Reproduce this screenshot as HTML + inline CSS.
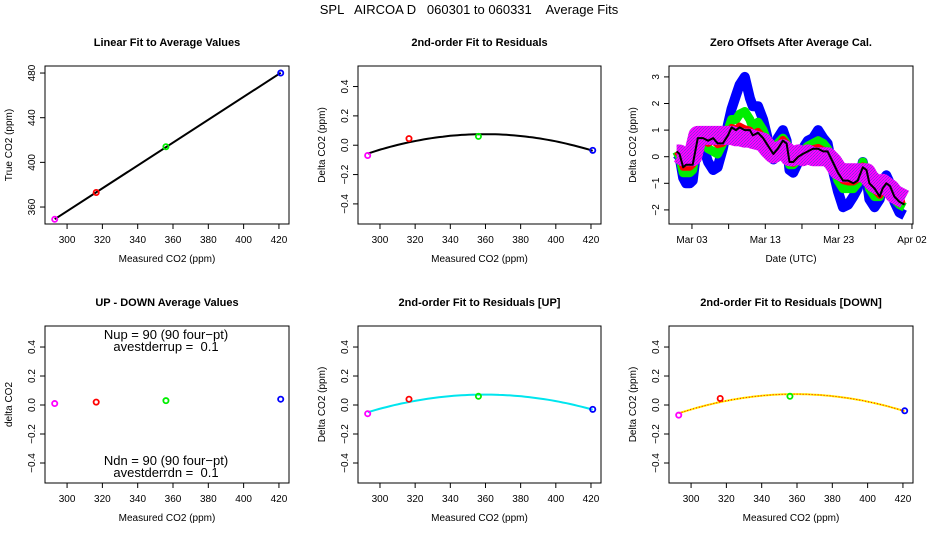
<!DOCTYPE html>
<html><head><meta charset="utf-8"><style>
body{margin:0;background:#fff}
svg{display:block;font-family:"Liberation Sans",sans-serif}
text{white-space:pre}
</style></head><body>
<svg id="c" width="936" height="540" viewBox="0 0 936 540">
<defs>
<pattern id="hatch" width="3" height="3" patternUnits="userSpaceOnUse">
<rect width="3" height="3" fill="#ff00ff"/><rect x="0" y="0" width="1" height="1" fill="#8a2be2"/><rect x="2" y="1" width="1" height="1" fill="#a020f0"/><rect x="1" y="2" width="1" height="1" fill="#8a2be2"/>
</pattern>
</defs>
<text x="469" y="14" font-size="13" text-anchor="middle" xml:space="preserve">SPL   AIRCOA D   060301 to 060331    Average Fits</text>
</svg>
<script>
// ---- data ----
const measured = [293, 316.5, 356, 421];
const trueVals = [349, 373, 414, 480];
const residAll = [-0.07, 0.045, 0.06, -0.035];
const upDown = [0.01, 0.02, 0.03, 0.04];
const residUp = [-0.06, 0.04, 0.06, -0.03];
const residDown = [-0.07, 0.045, 0.06, -0.04];
const pointColors = ["#ff00ff", "#ff0000", "#00ee00", "#0000ff"];
const xTicks = [300, 320, 340, 360, 380, 400, 420];
const yTicksTrue = [360, 400, 440, 480];
const yTicksResid = [-0.4, -0.2, 0.0, 0.2, 0.4];
const yTickResidLabels = ["-0.4", "-0.2", "0.0", "0.2", "0.4"];
const dateTicks = [2, 7, 12, 17, 22, 27, 32];
const dateTickLabels = ["Mar 03", "", "Mar 13", "", "Mar 23", "", "Apr 02"];
const yTicksOffset = [-2, -1, 0, 1, 2, 3];
const days = [-0.1,0.3,0.8,1.2,1.7,2.1,2.8,3.5,4.2,4.9,5.5,6.2,6.9,7.4,8.0,8.5,9.2,9.9,10.3,11.0,11.7,12.4,13.1,13.7,14.4,14.9,15.3,15.8,16.5,17.1,17.8,18.5,19.2,19.9,20.5,21.2,21.9,22.6,23.3,24.0,24.6,25.3,25.8,26.2,26.9,27.6,28.0,28.5,29.0,29.6,30.3,31.0];
const blackSeries = [0.2,0.1,-0.4,-0.3,-0.3,-0.3,0.7,0.7,0.6,0.7,0.5,0.5,0.8,1.1,1.0,1.1,1.0,1.0,0.8,0.9,0.7,0.4,0.1,0.3,0.6,0.5,-0.2,-0.2,0.0,0.1,0.2,0.3,0.3,0.2,0.2,-0.2,-0.6,-0.9,-0.9,-1.0,-0.9,-0.4,-0.5,-1.0,-1.2,-1.5,-1.2,-1.0,-1.1,-1.5,-1.7,-1.8];
const blueSeries = [0.1,0.0,-0.8,-1.0,-1.0,-0.9,0.7,0.4,-0.2,-0.5,-0.4,0.3,1.2,1.8,2.3,2.7,3.0,2.2,1.9,1.9,1.4,0.6,-0.1,0.7,1.0,0.6,-0.5,-0.6,-0.2,0.3,0.6,0.7,1.0,0.7,0.5,-0.5,-1.3,-1.9,-1.8,-1.5,-1.2,-0.2,-0.8,-1.6,-1.9,-1.6,-0.9,-0.7,-1.0,-1.7,-2.1,-2.2];
const greenSeries = [0.2,0.0,-0.6,-0.6,-0.6,-0.5,0.7,0.6,0.3,0.2,0.1,0.5,1.0,1.4,1.4,1.6,1.7,1.4,1.1,1.3,1.0,0.5,0.0,0.5,0.7,0.5,-0.3,-0.3,-0.1,0.2,0.4,0.5,0.6,0.5,0.3,-0.3,-0.9,-1.2,-1.2,-1.2,-1.0,-0.2,-0.6,-1.2,-1.5,-1.5,-1.0,-0.9,-1.1,-1.6,-1.8,-1.9];
const redSeries = [0.2,0.1,-0.4,-0.4,-0.4,-0.3,0.7,0.65,0.5,0.6,0.45,0.5,0.85,1.1,1.05,1.15,1.05,1.0,0.85,0.95,0.75,0.4,0.1,0.35,0.65,0.5,-0.2,-0.25,0.0,0.1,0.2,0.3,0.35,0.25,0.2,-0.25,-0.65,-0.9,-0.95,-0.95,-0.85,-0.35,-0.55,-1.0,-1.25,-1.45,-1.2,-1.0,-1.1,-1.5,-1.65,-1.6];
const magentaSeries = [0.1,0.1,0.0,0.0,0.0,0.0,0.8,0.8,0.8,0.8,0.8,0.8,0.8,0.8,0.75,0.75,0.7,0.7,0.65,0.6,0.55,0.3,0.1,0.2,0.3,0.2,0.0,0.0,0.1,0.0,0.1,0.0,0.0,0.0,0.0,-0.2,-0.5,-0.6,-0.6,-0.6,-0.6,-0.6,-0.6,-0.8,-1.0,-1.1,-1.0,-1.1,-1.2,-1.4,-1.5,-1.6];

const NS = "http://www.w3.org/2000/svg";
const svg = document.getElementById("c");
function mk(tag, attrs, parent, txt){
  const e = document.createElementNS(NS, tag);
  for (const k in attrs) e.setAttribute(k, attrs[k]);
  if (txt !== undefined) e.textContent = txt;
  (parent || svg).appendChild(e);
  return e;
}
function scale(d0, d1, r0, r1){ return v => r0 + (v - d0) / (d1 - d0) * (r1 - r0); }

function panel(o){
  const g = mk("g", {});
  
  
  const b = o.box;
  const sx = scale(o.xd[0], o.xd[1], b.l, b.r);
  const sy = scale(o.yd[0], o.yd[1], b.b, b.t);
  const t = mk("text", {x:(b.l+b.r)/2, y:b.t-20, "font-size":11, "font-weight":"bold", "text-anchor":"middle"}, g, o.title);
  
  
  const fr = mk("rect", {x:b.l, y:b.t, width:b.r-b.l, height:b.b-b.t, fill:"none", stroke:"#000", "stroke-width":1}, g);
  
  
  o.xt.forEach((v,i)=>{
    const x = sx(v);
    mk("line", {x1:x, x2:x, y1:b.b, y2:b.b+5, stroke:"#000"}, g);
    const lab = o.xl ? o.xl[i] : String(v);
    if (lab) {
      const tl = mk("text", {x:x, y:b.b+19, "font-size":10, "text-anchor":"middle"}, g, lab);
      
      
    }
  });
  o.yt.forEach((v,i)=>{
    const y = sy(v);
    mk("line", {x1:b.l-5, x2:b.l, y1:y, y2:y, stroke:"#000"}, g);
    const lab = o.yl ? o.yl[i] : String(v);
    const tl = mk("text", {x:b.l-10, y:y, "font-size":10, "text-anchor":"middle", transform:`rotate(-90 ${b.l-10} ${y})`}, g, lab.replace("-","\u2212"));
    
    
  });
  const xa = mk("text", {x:(b.l+b.r)/2, y:b.b+38, "font-size":10, "text-anchor":"middle"}, g, o.xlab);
  
  
  const ya = mk("text", {x:b.l-33, y:(b.t+b.b)/2, "font-size":10, "text-anchor":"middle", transform:`rotate(-90 ${b.l-33} ${(b.t+b.b)/2})`}, g, o.ylab);
  
  
  const clip = "clip-" + o.name;
  const cp = mk("clipPath", {id:clip}, g);
  mk("rect", {x:b.l, y:b.t, width:b.r-b.l, height:b.b-b.t}, cp);
  const inner = mk("g", {"clip-path":`url(#${clip})`}, g);
  return {g: inner, sx, sy, outer: g};
}
function points(p, xs, ys){
  xs.forEach((v,i)=>{
    const c = mk("circle", {cx:p.sx(v), cy:p.sy(ys[i]), r:2.6, fill:"none", stroke:pointColors[i], "stroke-width":1.8}, p.g);
    
    
  });
}
function quadFit(xs, ys){
  const n = xs.length; const m = xs.reduce((a,b)=>a+b,0)/n;
  const X = xs.map(v=>v-m);
  let S=[0,0,0,0,0], T=[0,0,0];
  X.forEach((x,i)=>{ for(let k=0;k<5;k++) S[k]+=Math.pow(x,k); for(let k=0;k<3;k++) T[k]+=ys[i]*Math.pow(x,k); });
  const A=[[S[0],S[1],S[2]],[S[1],S[2],S[3]],[S[2],S[3],S[4]]];
  const det = M => M[0][0]*(M[1][1]*M[2][2]-M[1][2]*M[2][1]) - M[0][1]*(M[1][0]*M[2][2]-M[1][2]*M[2][0]) + M[0][2]*(M[1][0]*M[2][1]-M[1][1]*M[2][0]);
  const D = det(A); const co=[];
  for(let j=0;j<3;j++){ const B=A.map((r,i)=>r.map((v,k)=>k===j?T[i]:v)); co.push(det(B)/D); }
  return x => co[0] + co[1]*(x-m) + co[2]*(x-m)*(x-m);
}
function curve(p, xs, ys, attrs, name){
  const f = quadFit(xs, ys);
  let d = "";
  const x0 = Math.min(...xs), x1 = Math.max(...xs);
  for (let i=0;i<=60;i++){ const x = x0 + (x1-x0)*i/60; d += (i?"L":"M") + p.sx(x).toFixed(1) + "," + p.sy(f(x)).toFixed(1); }
  const e = mk("path", Object.assign({d, fill:"none"}, attrs), p.g);
  
  
}
const XD = [287.5, 425.7];
const resX = "Measured CO2 (ppm)";

const p1 = panel({name:"linear-fit-panel", box:{l:45,r:289,t:66,b:224}, xd:XD, yd:[344.8,486.3], xt:xTicks, yt:yTicksTrue, title:"Linear Fit to Average Values", xlab:resX, ylab:"True CO2 (ppm)"});
(function(){
  const n = measured.length; const mx = measured.reduce((a,b)=>a+b)/n, my = trueVals.reduce((a,b)=>a+b)/n;
  let sxy=0, sxx=0; measured.forEach((x,i)=>{ sxy+=(x-mx)*(trueVals[i]-my); sxx+=(x-mx)*(x-mx); });
  const s = sxy/sxx; const f = x => my + s*(x-mx);
  const x0 = measured[0], x1 = measured[n-1];
  const l = mk("line", {x1:p1.sx(x0), y1:p1.sy(f(x0)), x2:p1.sx(x1), y2:p1.sy(f(x1)), stroke:"#000", "stroke-width":2}, p1.g);
  
  
})();
points(p1, measured, trueVals);

const p2 = panel({name:"residual-fit-panel", box:{l:358,r:601,t:66,b:224}, xd:XD, yd:[-0.537,0.54], xt:xTicks, yt:yTicksResid, yl:yTickResidLabels, title:"2nd-order Fit to Residuals", xlab:resX, ylab:"Delta CO2 (ppm)"});
curve(p2, measured, residAll, {stroke:"#000", "stroke-width":2}, "residual-fit-curve");
points(p2, measured, residAll);

const p3 = panel({name:"zero-offsets-panel", box:{l:669,r:913,t:66,b:224}, xd:[-1.13,32.14], yd:[-2.53,3.41], xt:dateTicks, xl:dateTickLabels, yt:yTicksOffset, title:"Zero Offsets After Average Cal.", xlab:"Date (UTC)", ylab:"Delta CO2 (ppm)"});
function series(vals, attrs, name){
  const d = days.map((t,i)=>(i?"L":"M")+p3.sx(t).toFixed(1)+","+p3.sy(vals[i]).toFixed(1)).join("");
  const e = mk("path", Object.assign({d, fill:"none", "stroke-linejoin":"round", "stroke-linecap":"butt"}, attrs), p3.g);
  
  
}
series(blueSeries, {stroke:"#0000ff", "stroke-width":10}, "blue-series");
series(greenSeries, {stroke:"#00ee00", "stroke-width":9}, "green-series");
series(redSeries, {stroke:"#ff0000", "stroke-width":7}, "red-series");
series(magentaSeries, {stroke:"url(#hatch)", "stroke-width":19}, "magenta-series");
series(blackSeries, {stroke:"#000", "stroke-width":2}, "black-series");

const p4 = panel({name:"up-down-panel", box:{l:45,r:289,t:326,b:483}, xd:XD, yd:[-0.538,0.545], xt:xTicks, yt:yTicksResid, yl:yTickResidLabels, title:"UP - DOWN Average Values", xlab:resX, ylab:"delta CO2"});
points(p4, measured, upDown);
[["Nup = 90 (90 four\u2212pt)",339,"nup-text"],["avestderrup =  0.1",351,"avestderrup-text"],["Ndn = 90 (90 four\u2212pt)",465,"ndn-text"],["avestderrdn =  0.1",477,"avestderrdn-text"]].forEach(a=>{
  const t = mk("text", {x:166, y:a[1], "font-size":13, "text-anchor":"middle"}, p4.outer, a[0]);
  
  
});

const p5 = panel({name:"residual-up-panel", box:{l:358,r:601,t:326,b:483}, xd:XD, yd:[-0.538,0.545], xt:xTicks, yt:yTicksResid, yl:yTickResidLabels, title:"2nd-order Fit to Residuals [UP]", xlab:resX, ylab:"Delta CO2 (ppm)"});
curve(p5, measured, residUp, {stroke:"#00e5ee", "stroke-width":2}, "up-fit-curve");
points(p5, measured, residUp);

const p6 = panel({name:"residual-down-panel", box:{l:669,r:913,t:326,b:483}, xd:XD, yd:[-0.538,0.545], xt:xTicks, yt:yTicksResid, yl:yTickResidLabels, title:"2nd-order Fit to Residuals [DOWN]", xlab:resX, ylab:"Delta CO2 (ppm)"});
curve(p6, measured, residDown, {stroke:"#ffee00", "stroke-width":2}, "down-fit-curve");
curve(p6, measured, residDown, {stroke:"#ff0000", "stroke-width":1, "stroke-dasharray":"1 2"}, "down-fit-curve-dashes");
points(p6, measured, residDown);
</script>
</body></html>
